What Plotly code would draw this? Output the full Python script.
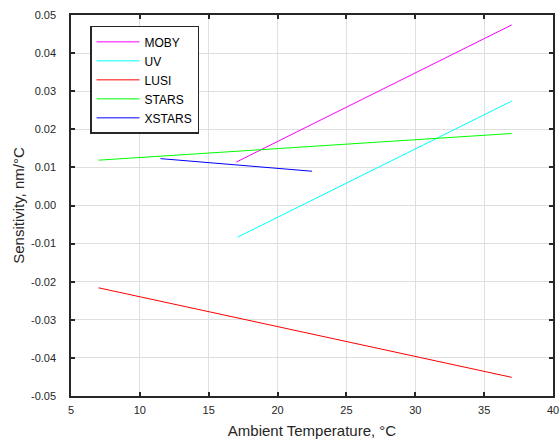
import plotly.graph_objects as go

series_names = ["MOBY", "UV", "LUSI", "STARS", "XSTARS"]
series_colors = ["#ff00ff", "#00ffff", "#ff0000", "#00ff00", "#0000ff"]
x_values = [
    [17.0, 37.0],
    [17.1, 37.0],
    [7.0, 37.0],
    [7.0, 37.0],
    [11.5, 22.5],
]
y_values = [
    [0.0114, 0.0474],
    [-0.0083, 0.0274],
    [-0.0216, -0.0451],
    [0.0119, 0.0189],
    [0.0123, 0.0090],
]
x_ticks = [5, 10, 15, 20, 25, 30, 35, 40]
y_ticks = [0.05, 0.04, 0.03, 0.02, 0.01, 0.00, -0.01, -0.02, -0.03, -0.04, -0.05]
y_tick_labels = ["0.05", "0.04", "0.03", "0.02", "0.01", "0.00", "-0.01", "-0.02", "-0.03", "-0.04", "-0.05"]

fig = go.Figure()
for name, color, xs, ys in zip(series_names, series_colors, x_values, y_values):
    fig.add_trace(go.Scatter(x=xs, y=ys, mode="lines", name=name,
                             line=dict(color=color, width=1)))

axis_common = dict(
    showline=True, linecolor="#262626", linewidth=1.5, mirror="allticks",
    ticks="inside", ticklen=4, tickcolor="#262626", tickwidth=1.5,
    showgrid=True, gridcolor="#dfdfdf", gridwidth=1, zeroline=False,
    automargin=False,
    tickfont=dict(family="Liberation Sans, Arial", size=11, color="#262626"),
)
fig.update_layout(
    width=560, height=443,
    margin=dict(l=71, r=7, t=15, b=47),
    paper_bgcolor="white", plot_bgcolor="white",
    font=dict(family="Liberation Sans, Arial", size=11, color="#262626"),
    xaxis=dict(range=[5, 40], tickvals=x_ticks, ticklabelstandoff=3,
               title=dict(text="Ambient Temperature, °C", font=dict(size=15), standoff=11),
               **axis_common),
    yaxis=dict(range=[-0.05, 0.05], tickvals=y_ticks, ticktext=y_tick_labels,
               ticklabelstandoff=11,
               title=dict(text="Sensitivity, nm/°C", font=dict(size=15), standoff=3),
               **axis_common),
    legend=dict(x=0.0395, y=0.9715, xanchor="left", yanchor="top",
                bgcolor="white", bordercolor="#262626", borderwidth=1.5,
                font=dict(size=12, color="black"), tracegroupgap=0,
                itemwidth=43, entrywidth=70, entrywidthmode="pixels"),
    showlegend=True,
)
fig.write_html("out.html", post_script="document.body.style.margin='0';",
               config={"displayModeBar": False})
